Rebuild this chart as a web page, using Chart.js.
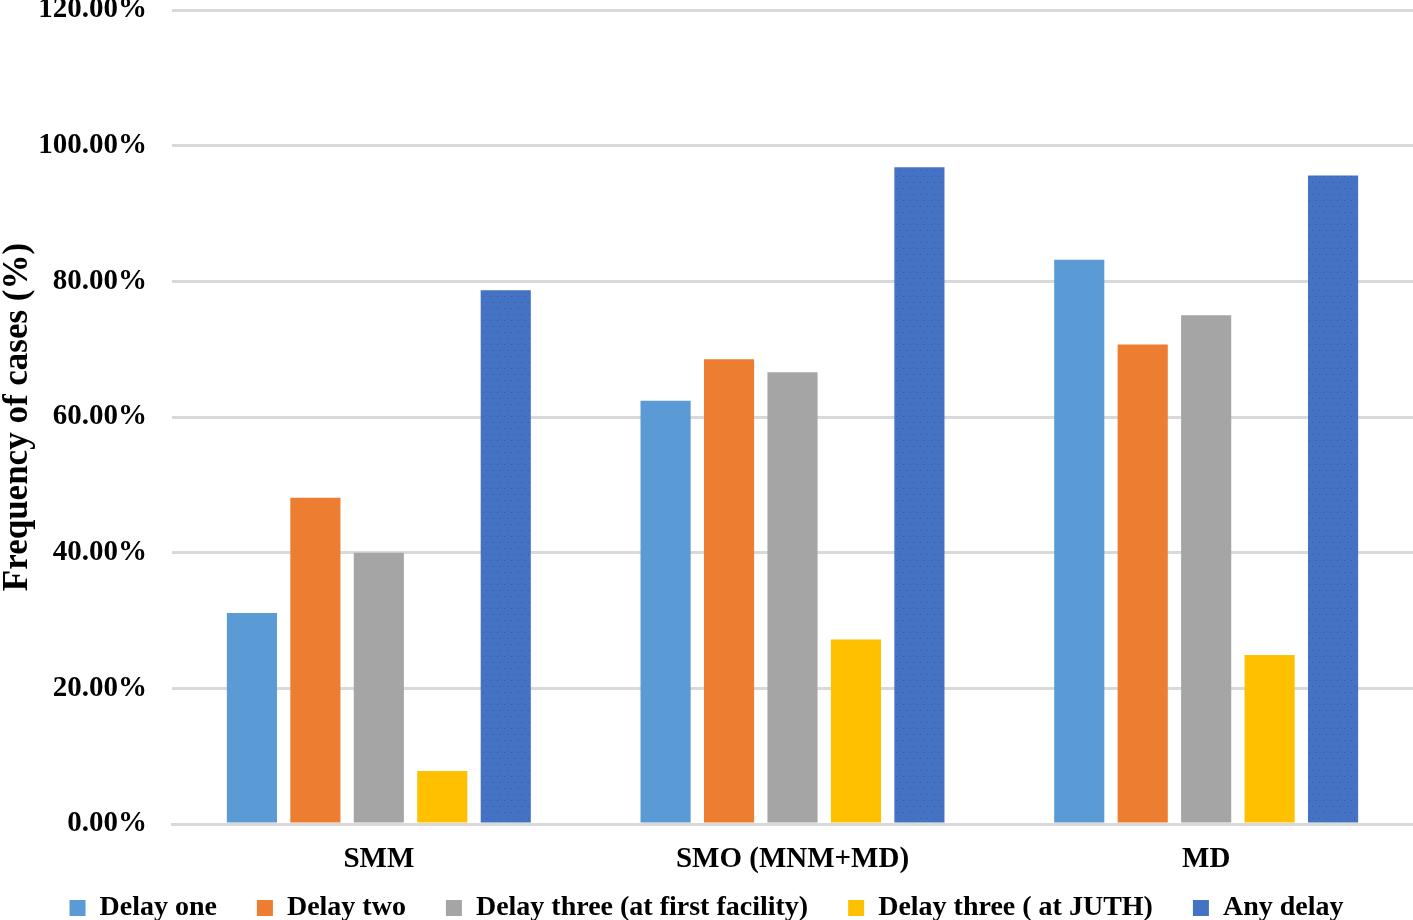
<!DOCTYPE html>
<html lang="en">
<head>
    <meta charset="UTF-8">
    <title>Frequency of cases by delay</title>
    <script src="https://cdn.jsdelivr.net/npm/chart.js"></script>
    <style>
        body { margin: 0; background: #fff; }
        #wrap { width: 1413px; height: 920px; }
    </style>
</head>
<body>
    <div id="wrap"><canvas id="myChart"></canvas></div>

    <script>
        // data (percent)
        const categories = ['SMM', 'SMO (MNM+MD)', 'MD'];
        const delayOne = [31.1, 62.4, 83.2];
        const delayTwo = [48.1, 68.5, 70.7];
        const delayThreeFacility = [40.0, 66.6, 75.0];
        const delayThreeJuth = [7.8, 27.2, 24.9];
        const anyDelay = [78.7, 96.8, 95.6];
        const yTicks = [0, 20, 40, 60, 80, 100, 120];

        const serif = "'Liberation Serif', 'Times New Roman', serif";

        // dotted texture like the "Any delay" bars in the figure
        function dotPattern(base) {
            const c = document.createElement('canvas');
            c.width = 7; c.height = 12;
            const g = c.getContext('2d');
            g.fillStyle = base;
            g.fillRect(0, 0, 7, 12);
            g.fillStyle = 'rgba(70, 70, 80, 0.55)';
            g.fillRect(3, 2, 1, 1);
            g.fillRect(0, 8, 1, 1);
            return g.createPattern(c, 'repeat');
        }

        const ctx = document.getElementById('myChart').getContext('2d');
        new Chart(ctx, {
            type: 'bar',
            data: {
                labels: categories,
                datasets: [
                    { label: 'Delay one', data: delayOne, backgroundColor: '#5b9bd5' },
                    { label: 'Delay two', data: delayTwo, backgroundColor: '#ed7d31' },
                    { label: 'Delay three (at first facility)', data: delayThreeFacility, backgroundColor: '#a5a5a5' },
                    { label: 'Delay three ( at JUTH)', data: delayThreeJuth, backgroundColor: '#ffc000' },
                    { label: 'Any delay', data: anyDelay, backgroundColor: dotPattern('#4472c4') }
                ]
            },
            options: {
                responsive: true,
                maintainAspectRatio: false,
                animation: false,
                categoryPercentage: 0.767,
                barPercentage: 0.79,
                layout: { padding: { top: 0, right: 0, left: 0, bottom: -12 } },
                plugins: {
                    tooltip: { enabled: false },
                    legend: {
                        position: 'bottom',
                        labels: {
                            color: '#000',
                            font: { family: serif, size: 28, weight: 'bold' },
                            boxWidth: 16,
                            boxHeight: 16,
                            padding: 40,
                            generateLabels: chart => {
                                const items = Chart.defaults.plugins.legend.labels.generateLabels(chart);
                                items[4].fillStyle = '#4472c4';
                                return items;
                            }
                        }
                    }
                },
                scales: {
                    x: {
                        grid: { display: false },
                        border: { color: '#d9d9d9', width: 3 },
                        afterFit: scale => {
                            scale.height = 30;
                            scale._computeLabelArea = () => null; // let labels run past the short axis box
                        },
                        ticks: {
                            color: '#000',
                            font: { family: serif, size: 29, weight: 'bold' },
                            padding: 10
                        }
                    },
                    y: {
                        min: 0,
                        max: 120,
                        afterBuildTicks: axis => { axis.ticks = yTicks.map(v => ({ value: v })); },
                        afterFit: scale => {
                            scale.width = 172;
                            scale.paddingTop = 10;
                            scale.paddingBottom = 0;
                        },
                        grid: { color: '#d9d9d9', lineWidth: 3, drawTicks: false },
                        border: { display: false },
                        ticks: {
                            color: '#000',
                            font: { family: serif, size: 29, weight: 'bold' },
                            padding: 25,
                            callback: v => v.toFixed(2) + '%'
                        },
                        title: {
                            display: true,
                            text: 'Frequency of cases (%)',
                            color: '#000',
                            font: { family: serif, size: 35, weight: 'bold', lineHeight: 1 },
                            padding: { top: 0, bottom: 0 }
                        }
                    }
                }
            }
        });
    </script>
</body>
</html>
